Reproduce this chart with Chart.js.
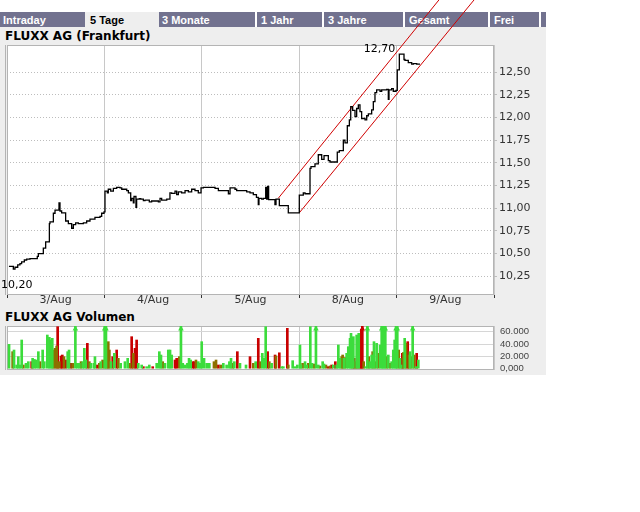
<!DOCTYPE html>
<html><head><meta charset="utf-8">
<script src="https://cdn.jsdelivr.net/npm/chart.js@4.4.1/dist/chart.umd.min.js"></script>
<style>
html,body{margin:0;padding:0;background:#fff;width:640px;height:512px;overflow:hidden;}
#panel{position:absolute;left:0;top:27px;width:546px;height:348px;background:#eeeeee;}
.tab{position:absolute;top:12px;height:15px;background:#72728f;color:#fff;font:bold 11px 'Liberation Sans',Arial,sans-serif;line-height:16px;padding-left:4px;box-sizing:border-box;white-space:nowrap;overflow:hidden;}
.tab.active{background:#eeeeee;color:#000;}
.title{position:absolute;left:5px;font:bold 12px 'DejaVu Sans',Verdana,sans-serif;color:#000;white-space:nowrap;}
canvas{position:absolute;left:0;}
</style></head>
<body>
<div id="panel"></div>
<div class="tab" style="left:0;width:85px;padding-left:3px">Intraday</div>
<div class="tab active" style="left:85px;width:74px;padding-left:5px">5 Tage</div>
<div class="tab" style="left:159px;width:96px;padding-left:3px">3 Monate</div>
<div class="tab" style="left:257px;width:65px">1 Jahr</div>
<div class="tab" style="left:324px;width:79px">3 Jahre</div>
<div class="tab" style="left:405px;width:83px">Gesamt</div>
<div class="tab" style="left:490px;width:49px">Frei</div>
<div class="tab" style="left:541px;width:5px;padding:0"></div>
<div class="title" style="top:29px">FLUXX AG (Frankfurt)</div>
<div class="title" style="top:310px">FLUXX AG Volumen</div>
<canvas id="price" width="546" height="312" style="top:0"></canvas>
<canvas id="vol" width="546" height="56" style="top:320px"></canvas>
<script>
// ---------- data ----------
const dayLabels = ['3/Aug','4/Aug','5/Aug','8/Aug','9/Aug'];

const priceTicks = [10.25,10.5,10.75,11,11.25,11.5,11.75,12,12.25,12.5];
const priceTickLabels = ['10,25','10,50','10,75','11,00','11,25','11,50','11,75','12,00','12,25','12,50'];
const priceMin = 10.044, priceMax = 12.80;

// time in trading days since start of 3/Aug, price in EUR
const priceTimes = [
0.02,0.065,0.082,0.11,0.133,0.15,0.178,0.202,0.236,0.311,0.322,0.373,0.397,0.435,0.441,0.476,0.493,0.534,0.544,0.561,
0.602,0.63,0.664,0.681,0.705,0.732,0.784,0.818,0.852,0.903,0.955,0.972,0.996,
1.006,1.03,1.04,1.065,1.092,1.126,1.16,1.178,1.229,1.246,1.27,1.28,1.297,1.304,1.324,1.331,1.358,1.373,1.4,1.417,
1.461,1.485,1.554,1.571,1.588,1.64,1.673,1.691,1.725,1.742,1.759,1.793,1.828,1.862,1.896,1.93,1.964,
1.992,2.016,2.136,2.17,2.273,2.29,2.341,2.358,2.461,2.495,2.529,2.561,2.58,2.587,2.615,2.632,2.656,2.666,2.676,2.686,
2.751,2.762,2.796,2.888,
3.001,3.042,3.06,3.111,3.121,3.162,3.196,3.231,3.255,3.299,3.316,3.391,3.412,3.453,3.47,3.494,3.515,3.529,3.549,3.573,
3.59,3.607,3.624,3.641,3.676,3.693,3.71,3.744,3.761,3.778,3.795,3.83,3.847,3.898,3.915,3.922,3.949,3.966,3.994,
4.007,4.028,4.076,4.086,4.12,4.155,4.172,4.206,4.24];
const priceValues = [
10.36,10.33,10.35,10.375,10.39,10.41,10.43,10.44,10.445,10.47,10.50,10.56,10.63,10.83,10.85,10.945,10.98,11.06,10.97,10.95,
10.86,10.83,10.78,10.82,10.84,10.83,10.84,10.86,10.88,10.90,10.91,10.945,10.96,
11.19,11.17,11.21,11.19,11.22,11.23,11.225,11.21,11.195,11.17,11.085,11.11,11.06,11.13,11.01,11.10,11.105,11.10,11.085,11.09,
11.07,11.08,11.07,11.11,11.09,11.10,11.17,11.165,11.19,11.15,11.18,11.17,11.195,11.18,11.21,11.195,11.17,
11.224,11.23,11.22,11.194,11.16,11.224,11.21,11.194,11.18,11.17,11.15,11.12,11.04,11.11,11.10,11.11,11.23,11.10,11.24,11.095,
11.04,11.10,11.03,10.95,
11.145,11.17,11.16,11.44,11.46,11.49,11.59,11.54,11.58,11.525,11.51,11.62,11.635,11.75,11.72,11.91,11.975,12.12,12.08,12.01,
12.10,12.14,12.066,11.99,11.975,12.02,12.04,12.085,12.176,12.275,12.305,12.29,12.305,12.31,12.20,12.305,12.32,12.29,12.30,
12.525,12.70,12.64,12.63,12.605,12.59,12.595,12.59,12.59];

// trend channel
const upperChannelTimes = [2.785, 4.6];
const upperChannelValues = [11.11, 13.516];
const lowerChannelTimes = [3.001, 4.9];
const lowerChannelValues = [10.95, 13.434];

// high / low annotations
const highTime = 4.028, highValue = 12.70, highText = '12,70';
const lowTime = 0, lowValue = 10.20, lowText = '10,20';

// volume
const volTicks = [0, 20000, 40000, 60000];
const volTickLabels = ['0,000', '20.000', '40.000', '60.000'];
const volMin = -2100, volMax = 69200;
const volTimes = [
.021,.058,.072,.099,.116,.133,.151,.168,.195,.219,.253,.263,.281,.298,.322,.339,.366,.383,.414,.435,
.448,.465,.476,.493,.51,.52,.537,.554,.568,.585,.602,.623,.637,.654,.674,.702,.722,.743,.76,.777,
.794,.811,.825,.845,.862,.893,.903,.927,.948,.962,.982,1.003,1.016,1.023,1.04,1.051,1.068,1.085,1.102,1.126,
1.143,1.167,1.211,1.239,1.263,1.28,1.297,1.314,1.331,1.348,1.383,1.4,1.434,1.461,1.496,1.537,1.564,1.581,1.598,1.622,
1.656,1.674,1.691,1.725,1.742,1.769,1.786,1.804,1.828,1.852,1.869,1.886,1.906,1.923,1.94,1.964,1.982,1.999,2.023,2.05,
2.077,2.125,2.146,2.17,2.194,2.221,2.255,2.283,2.3,2.317,2.334,2.365,2.392,2.454,2.495,2.529,2.553,2.58,2.598,2.621,
2.639,2.656,2.676,2.693,2.717,2.752,2.762,2.796,2.82,2.837,2.878,2.888,2.933,2.957,2.981,3.008,3.018,3.035,3.06,3.077,
3.094,3.114,3.131,3.152,3.172,3.196,3.214,3.241,3.255,3.275,3.299,3.316,3.333,3.35,3.371,3.385,3.402,3.419,3.436,3.446,
3.46,3.47,3.487,3.504,3.522,3.532,3.546,3.556,3.566,3.58,3.59,3.6,3.611,3.624,3.638,3.648,3.662,3.682,3.7,3.713,
3.727,3.744,3.754,3.768,3.781,3.795,3.812,3.83,3.847,3.857,3.871,3.884,3.898,3.915,3.932,3.949,3.966,3.98,3.994,4.007,
4.021,4.035,4.045,4.059,4.069,4.083,4.097,4.114,4.127,4.138,4.151,4.165,4.182,4.199,4.206,4.223];
const volValues = [
39500,27600,30300,6000,19500,6000,46500,6000,8700,11400,11400,16800,15000,14100,27600,11400,30300,11400,54600,50800,
46500,49200,30300,33000,36800,68100,11400,20600,22200,19500,14100,27600,30300,8700,8700,75000,8700,8700,11400,11400,
33000,14100,41100,11400,8700,8700,19500,6000,8700,11400,14100,75000,75000,27600,43800,30300,11400,19500,24900,30300,
16800,8700,11400,16800,8700,51900,24900,33000,46500,8700,6000,3300,3300,6000,3300,8700,27600,22200,11400,8700,
30300,30300,22200,14100,16800,19500,75000,8700,6000,8700,16800,14100,11400,11400,14100,11400,8700,43800,16800,8700,
8700,11400,14100,6000,6000,8700,6000,11400,16800,8700,11400,27600,8700,6000,19500,8700,11400,49200,11400,24900,
16800,68100,27600,11400,8700,22200,20600,25800,3300,3300,65400,6000,13000,3300,6000,38400,6000,8700,11400,6000,
8700,68100,8700,7600,75000,6000,4400,11400,7600,6000,3300,4400,6000,6000,11400,6000,38400,16800,19500,22200,
16800,18100,24900,35700,49200,57300,27600,51900,16800,11400,54600,27600,57300,57300,63800,75000,11400,3300,75000,19500,
11400,22200,27600,43800,11400,41100,24900,38400,75000,30300,75000,75000,19500,22200,8700,11400,30300,46500,75000,75000,
30300,16800,6000,24900,26200,49200,41100,43800,22200,27600,19500,75000,22200,3300,24900,14100];
// u = price up, d = price down, n = unchanged
const volTrend = [
'u','n','u','u','u','u','u','n','u','u','d','u','u','u','u','n','u','u','u','u',
'u','u','n','n','n','d','n','d','d','n','d','u','u','d','n','u','u','u','n','u',
'u','u','d','n','u','u','u','d','n','u','n','u','u','n','n','n','u','d','u','d',
'n','u','u','u','n','d','n','d','d','u','u','d','u','u','d','u','u','u','n','u',
'u','u','u','d','d','n','u','u','u','u','u','u','d','d','n','u','u','u','u','u',
'u','n','n','d','n','u','u','u','u','n','u','d','u','u','d','n','u','d','n','u',
'u','u','d','n','u','d','n','d','u','u','d','n','u','u','u','u','u','n','u','u',
'n','u','u','n','u','u','n','u','u','n','d','n','d','u','d','u','u','u','n','n',
'u','n','u','u','u','u','n','u','d','n','u','n','u','d','d','d','n','u','u','n',
'u','u','n','u','n','u','n','u','u','u','u','u','n','u','n','u','u','u','u','u',
'n','u','u','d','n','u','n','d','n','u','n','u','n','u','d','u'];

// ---------- rendering ----------
Chart.defaults.font.family = "'DejaVu Sans', Verdana, sans-serif";
Chart.defaults.font.size = 11;
Chart.defaults.color = '#333';

const nDays = dayLabels.length;
const isInt = v => Math.abs(v - Math.round(v)) < 1e-9;
const dayTicks = [];
for (let i = 0; i <= nDays; i++) { dayTicks.push({value: i}); if (i < nDays) dayTicks.push({value: i + 0.5}); }
const boundaryTicks = [];
for (let i = 0; i <= nDays; i++) boundaryTicks.push({value: i});

const frame = {
  id: 'frame',
  beforeDraw(chart) {
    const {ctx, chartArea: a} = chart;
    ctx.save();
    ctx.fillStyle = '#ffffff';
    ctx.fillRect(a.left, a.top, a.right - a.left, a.bottom - a.top);
    ctx.restore();
  },
  beforeDatasetsDraw(chart) {
    const {ctx, chartArea: a} = chart;
    ctx.save();
    ctx.strokeStyle = '#b4b4b4';
    ctx.lineWidth = 1;
    ctx.strokeRect(Math.round(a.left) + 0.5, Math.round(a.top) + 0.5, Math.round(a.right - a.left) - 1, Math.round(a.bottom - a.top) - 1);
    ctx.beginPath();
    ctx.moveTo(Math.round(a.left) - 1.5, Math.round(a.top));
    ctx.lineTo(Math.round(a.left) - 1.5, Math.round(a.bottom));
    ctx.stroke();
    ctx.restore();
  }
};

const annot = {
  id: 'annot',
  afterDatasetsDraw(chart) {
    const {ctx, scales: {x, y}} = chart;
    ctx.save();
    ctx.fillStyle = '#000';
    ctx.font = "11px 'DejaVu Sans', Verdana, sans-serif";
    ctx.textAlign = 'right';
    ctx.textBaseline = 'alphabetic';
    ctx.fillText(highText, x.getPixelForValue(highTime) - 4, y.getPixelForValue(highValue) - 2);
    ctx.textAlign = 'left';
    ctx.textBaseline = 'top';
    ctx.fillText(lowText, x.getPixelForValue(lowTime) - 6, y.getPixelForValue(lowValue) - 1);
    ctx.restore();
  }
};

const toXY = (ts, vs) => ts.map((t, i) => ({x: t, y: vs[i]}));

new Chart(document.getElementById('price'), {
  type: 'line',
  data: {datasets: [
    {data: toXY(priceTimes, priceValues), borderColor: '#000', borderWidth: 1.3, stepped: true,
     pointRadius: 0, fill: false, order: 0},
    {data: toXY(upperChannelTimes, upperChannelValues), borderColor: '#d00000', borderWidth: 1,
     pointRadius: 0, fill: false, clip: false, order: 1},
    {data: toXY(lowerChannelTimes, lowerChannelValues), borderColor: '#d00000', borderWidth: 1,
     pointRadius: 0, fill: false, clip: false, order: 1}
  ]},
  options: {
    responsive: false, animation: false, events: [],
    layout: {padding: {left: 7, top: 45, right: 0, bottom: 0}},
    plugins: {legend: {display: false}, tooltip: {enabled: false}},
    scales: {
      x: {
        type: 'linear', min: 0, max: nDays, offset: false,
        afterBuildTicks: s => { s.ticks = dayTicks.map(t => ({value: t.value})); },
        afterFit: s => { s.height = 17; },
        ticks: {autoSkip: false, maxRotation: 0, padding: -4, color: '#333',
                callback: v => isInt(v) ? '' : dayLabels[Math.floor(v)]},
        grid: {color: c => isInt(c.tick.value) ? '#c8c8c8' : 'rgba(0,0,0,0)',
               tickColor: c => isInt(c.tick.value) ? '#333' : 'rgba(0,0,0,0)', tickLength: 3},
        border: {display: false}
      },
      y: {
        type: 'linear', position: 'right', min: priceMin, max: priceMax,
        afterBuildTicks: s => { s.ticks = priceTicks.map(v => ({value: v})); },
        afterFit: s => { s.width = 52; },
        ticks: {autoSkip: false, padding: 2, color: '#333', callback: (v, i) => priceTickLabels[i]},
        grid: {color: '#bdbdbd', tickColor: '#bdbdbd', tickLength: 3},
        border: {display: false, dash: [1, 2]}
      }
    }
  },
  plugins: [frame, annot]
});

const trendColor = {u: '#3cdc3c', d: '#c80000', n: '#8c7000'};
const volSeries = t => volTimes.map((x, i) => ({x, y: volValues[i], t: volTrend[i]})).filter(p => p.t === t);
const arrowLevel = 64500;
const clipped = volTimes.map((x, i) => ({x, y: arrowLevel, t: volTrend[i], v: volValues[i]})).filter(p => p.v > volMax);

const barDs = t => ({type: 'bar', data: volSeries(t), backgroundColor: trendColor[t], barThickness: 2, grouped: false});

new Chart(document.getElementById('vol'), {
  type: 'bar',
  data: {datasets: [
    barDs('u'), barDs('n'), barDs('d'),
    {type: 'scatter', data: clipped, pointStyle: 'triangle', pointRadius: 3.2, borderWidth: 0,
     pointBackgroundColor: clipped.map(p => trendColor[p.t]), pointBorderColor: clipped.map(p => trendColor[p.t])}
  ]},
  options: {
    responsive: false, animation: false, events: [],
    layout: {padding: {left: 7, top: 6, right: 0, bottom: 6}},
    plugins: {legend: {display: false}, tooltip: {enabled: false}},
    scales: {
      x: {
        type: 'linear', min: 0, max: nDays, offset: false,
        afterBuildTicks: s => { s.ticks = boundaryTicks.map(t => ({value: t.value})); },
        afterFit: s => { s.height = 0; },
        ticks: {display: false},
        grid: {color: '#c8c8c8', drawTicks: false, offset: false},
        border: {display: false}
      },
      y: {
        type: 'linear', position: 'right', min: volMin, max: volMax,
        afterBuildTicks: s => { s.ticks = volTicks.map(v => ({value: v})); },
        afterFit: s => { s.width = 52; },
        ticks: {autoSkip: false, padding: 0, color: '#444', font: {family: "'Liberation Sans', Arial, sans-serif", size: 9.5},
                callback: (v, i) => volTickLabels[i]},
        grid: {color: c => c.tick.value === 0 ? 'rgba(0,0,0,0)' : '#d6d6d6', drawTicks: true,
               tickLength: 6, tickColor: 'rgba(0,0,0,0)'},
        border: {display: false}
      }
    }
  },
  plugins: [frame]
});
</script>
</body></html>
